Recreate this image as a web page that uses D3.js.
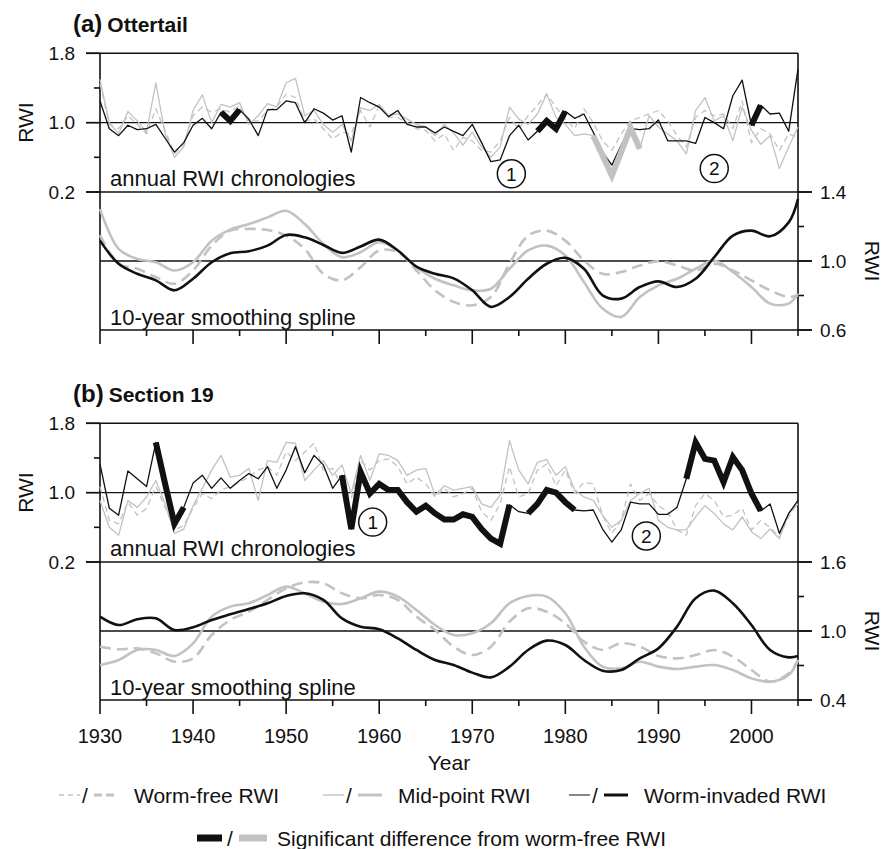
<!DOCTYPE html>
<html><head><meta charset="utf-8">
<script src="https://cdn.jsdelivr.net/npm/d3@7"></script>
<style>
body{margin:0;background:#fff;}
svg{display:block;}
text{font-family:"Liberation Sans",Arial,Helvetica,sans-serif;fill:#111;}
</style>
</head><body>
<svg id="c" width="894" height="849"></svg>
<script>
// ---------------- DATA ----------------
const years = d3.range(1930, 2006);                       // annual chronologies 1930-2005
const splineYears = d3.range(1930, 2005, 2).concat([2005]); // sampled smoothing spline
const xMajorTicks = [1930, 1940, 1950, 1960, 1970, 1980, 1990, 2000];
const xMinorTicks = [1935, 1945, 1955, 1965, 1975, 1985, 1995, 2005];

// (a) Ottertail – annual RWI
const aFree = [1.45,0.98,0.93,1.08,0.98,0.87,1.16,0.91,0.64,0.75,
  1.08,1.18,1.12,1.16,1.12,1.20,1.02,1.02,1.14,1.18,
  1.33,1.29,1.02,1.04,0.93,0.81,0.89,0.87,1.14,0.95,
  1.20,1.06,1.06,1.00,0.93,0.91,0.79,0.87,0.68,0.83,
  0.79,0.68,0.66,0.79,1.06,0.93,1.08,1.20,1.33,1.18,
  1.04,0.93,1.16,1.00,0.79,0.68,0.87,1.02,1.06,1.10,
  1.14,1.02,0.85,0.72,1.06,1.14,1.08,1.10,0.93,1.25,
  0.77,0.93,0.87,0.68,0.87,0.83];
const aMid = [1.50,1.00,0.87,1.13,1.02,0.89,1.46,0.87,0.60,0.72,
  1.14,1.32,1.00,1.21,1.18,1.23,0.98,1.08,1.22,1.18,
  1.46,1.51,1.08,1.14,0.98,0.89,0.98,0.79,1.17,1.14,
  1.21,1.08,1.10,1.04,0.98,0.95,0.85,0.98,0.88,0.74,
  0.89,0.72,0.60,0.72,1.18,1.04,0.98,1.10,1.33,1.06,
  0.98,0.85,0.87,0.85,0.62,0.39,0.66,0.94,0.70,1.08,
  0.95,0.87,0.79,0.64,1.14,1.29,1.02,1.08,0.79,1.18,
  0.91,0.75,0.85,0.47,0.72,0.95];
const aInv = [1.25,0.93,0.85,0.97,0.92,0.93,0.98,0.82,0.66,0.77,
  0.97,1.05,0.93,1.12,1.02,1.15,1.04,0.85,1.15,1.15,
  1.25,1.23,1.00,1.16,1.11,1.03,1.08,0.66,1.29,1.23,
  1.18,1.07,1.14,0.98,0.95,0.95,0.88,0.95,0.90,0.85,
  0.98,0.77,0.55,0.57,0.85,0.97,0.80,0.90,1.02,0.93,
  1.13,1.05,1.10,0.89,0.66,0.51,0.74,0.93,0.92,0.93,
  1.03,0.79,0.79,0.79,0.76,1.06,1.00,0.93,1.31,1.49,
  0.97,1.20,1.10,1.11,0.90,1.62];
// (a) Ottertail – 10-year smoothing spline
const aFreeS = [1.150,0.984,0.955,0.907,0.868,0.945,1.089,1.176,1.186,1.180,1.147,1.070,0.926,0.888,0.964,1.061,1.051,0.945,0.830,0.763,0.743,0.791,0.984,1.147,1.176,1.118,1.003,0.926,0.936,0.974,0.999,0.974,0.945,0.984,0.945,0.888,0.830,0.791,0.801];
const aMidS  = [1.301,1.070,1.012,0.993,0.945,0.993,1.118,1.182,1.214,1.253,1.291,1.214,1.099,1.022,1.051,1.109,1.061,0.964,0.897,0.859,0.830,0.839,0.955,1.061,1.089,1.032,0.878,0.724,0.676,0.791,0.859,0.897,0.955,1.003,0.936,0.849,0.753,0.753,0.811];
const aInvS  = [1.118,0.984,0.926,0.888,0.830,0.897,0.993,1.045,1.057,1.089,1.151,1.137,1.093,1.047,1.084,1.124,1.061,0.968,0.926,0.899,0.830,0.734,0.791,0.897,0.984,1.018,0.955,0.801,0.782,0.849,0.882,0.849,0.897,1.022,1.147,1.176,1.143,1.224,1.359];

// (b) Section 19 – annual RWI
const bFree = [1.07,0.68,0.64,0.89,0.74,0.82,1.07,0.83,0.57,0.62,
  0.82,0.99,0.93,1.03,1.07,1.12,1.18,1.26,1.30,1.20,
  1.47,1.37,1.47,1.57,1.26,1.28,1.07,0.93,1.37,1.26,
  1.37,1.39,1.30,1.10,1.18,1.10,0.95,1.05,0.95,0.99,
  1.05,0.78,0.68,0.87,1.30,0.95,0.99,1.26,1.33,1.08,
  1.26,0.99,1.12,1.10,0.74,0.53,0.68,1.10,0.91,0.99,
  0.85,0.78,0.57,0.51,0.85,0.99,0.91,0.72,0.74,0.82,
  0.57,0.68,0.60,0.49,0.72,0.89];
const bMid = [0.91,0.60,0.51,0.91,0.83,0.95,1.14,0.87,0.53,0.58,
  0.85,1.05,1.26,1.43,1.18,1.20,1.28,0.91,1.37,1.35,
  1.58,1.57,1.14,1.26,1.37,1.20,1.32,0.99,1.43,1.14,
  1.45,1.43,1.37,1.20,1.26,1.28,0.97,1.08,1.03,1.05,
  1.07,0.87,0.83,0.97,1.60,1.26,1.10,1.35,1.38,1.20,
  1.30,1.03,0.95,0.91,0.74,0.60,0.68,0.91,0.99,1.05,
  0.68,0.60,0.57,0.57,0.72,0.85,0.76,0.64,0.57,0.72,
  0.55,0.47,0.58,0.47,0.76,0.87];
const bInv = [1.33,0.82,0.74,1.25,1.16,1.07,1.58,1.10,0.64,0.83,
  1.11,1.20,1.05,1.17,1.05,1.14,1.22,1.16,1.30,1.05,
  1.26,1.53,1.23,1.43,1.32,1.05,1.20,0.58,1.24,0.99,
  1.10,1.03,1.03,0.89,0.78,0.85,0.76,0.69,0.69,0.75,
  0.72,0.58,0.47,0.41,0.86,0.78,0.76,0.87,1.03,1.00,
  0.89,0.80,0.79,0.80,0.58,0.43,0.57,0.89,0.87,0.87,
  0.75,0.75,0.83,1.16,1.58,1.39,1.37,1.12,1.41,1.26,
  0.99,0.79,0.87,0.53,0.76,0.91];
// (b) Section 19 – 10-year smoothing spline
const bFreeS = [0.864,0.841,0.849,0.806,0.733,0.762,0.965,1.096,1.168,1.270,1.371,1.423,1.415,1.328,1.284,1.313,1.270,1.125,1.009,0.864,0.791,0.864,1.081,1.197,1.168,1.067,0.907,0.835,0.893,0.864,0.783,0.762,0.791,0.835,0.777,0.661,0.559,0.632,0.748];
const bMidS  = [0.704,0.748,0.835,0.835,0.783,0.893,1.125,1.212,1.241,1.313,1.386,1.328,1.255,1.235,1.284,1.342,1.299,1.183,1.052,0.965,0.980,1.067,1.241,1.305,1.299,1.154,0.864,0.690,0.675,0.733,0.690,0.669,0.690,0.704,0.661,0.588,0.559,0.617,0.748];
const bInvS  = [1.125,1.052,1.102,1.110,1.009,1.032,1.096,1.145,1.191,1.241,1.305,1.328,1.270,1.110,1.038,1.015,0.936,0.835,0.748,0.704,0.638,0.597,0.690,0.835,0.916,0.878,0.748,0.655,0.661,0.762,0.849,1.038,1.284,1.351,1.241,1.052,0.835,0.771,0.782];

// significant-difference periods [series, first year, last year]
const aSig = [["mid",1983,1988],["inv",1943,1945],["inv",1977,1980],["inv",2000,2001]];
const bSig = [["inv",1936,1939],["inv",1956,1974],["inv",1976,1981],["inv",1993,2001]];

// circled period markers [label, year, RWI]
const aMarks = [["1",1974.2,0.41],["2",1996.0,0.47]];
const bMarks = [["1",1959.3,0.66],["2",1988.7,0.50]];

// axis tick values
const annualMajor = [0.2,1.0,1.8], annualMinor = [0.6,1.4];
const aSplineMajor = [0.6,1.0,1.4], aSplineMinor = [0.8,1.2];
const bSplineMajor = [0.4,1.0,1.6], bSplineMinor = [0.7,1.3];

// ---------------- DRAWING ----------------
const svg = d3.select("#c");
const X0 = 100, X1 = 798;
const x = d3.scaleLinear().domain([1930, 2005]).range([X0, X1]);
const GRAY = "#c2c2c2", BLACK = "#111";
const fmt = d3.format(".1f");

const panels = [
  {label:"(a)", name:"Ottertail", top:53.3, mid:192, bottom:330,
   ann:{free:aFree, mid:aMid, inv:aInv}, spl:{free:aFreeS, mid:aMidS, inv:aInvS},
   splDomain:[0.6,1.4], splMajor:aSplineMajor, splMinor:aSplineMinor,
   sig:aSig, marks:aMarks, xLabels:false},
  {label:"(b)", name:"Section 19", top:423.3, mid:562, bottom:700,
   ann:{free:bFree, mid:bMid, inv:bInv}, spl:{free:bFreeS, mid:bMidS, inv:bInvS},
   splDomain:[0.4,1.6], splMajor:bSplineMajor, splMinor:bSplineMinor,
   sig:bSig, marks:bMarks, xLabels:true}
];

panels.forEach(p => {
  const g = svg.append("g");
  const yA = d3.scaleLinear().domain([0.2, 1.8]).range([p.mid, p.top]);
  const yS = d3.scaleLinear().domain(p.splDomain).range([p.bottom, p.mid]);

  // title
  const t = g.append("text").attr("x", 73).attr("y", p.top - 21).attr("font-weight", "bold");
  t.append("tspan").attr("font-size", 24).text(p.label);
  t.append("tspan").attr("font-size", 21).attr("dx", 5).text(p.name);

  // frame lines
  const line = (x1,y1,x2,y2,w) => g.append("line").attr("x1",x1).attr("y1",y1).attr("x2",x2).attr("y2",y2)
      .attr("stroke", BLACK).attr("stroke-width", w || 1.6);
  line(86, yA(1.8), X1, yA(1.8));
  line(86, yA(1.0), X1, yA(1.0), 1.4);
  line(86, p.mid, X1 + 14, p.mid);
  line(X0, yS(1.0), X1 + 14, yS(1.0), 1.4);
  line(X0, p.bottom, X1 + 14, p.bottom);
  line(X0, p.top, X0, p.bottom);
  line(X1, p.top, X1, p.bottom);

  // left ticks (annual)
  annualMajor.forEach(v => line(86, yA(v), X0, yA(v)));
  annualMinor.forEach(v => line(94, yA(v), X0, yA(v)));
  annualMajor.forEach(v => g.append("text").attr("x", 75).attr("y", yA(v)).attr("dy", "0.36em")
      .attr("text-anchor", "end").attr("font-size", 19).text(fmt(v)));
  // right ticks (spline)
  p.splMajor.forEach(v => line(X1, yS(v), X1 + 14, yS(v)));
  p.splMinor.forEach(v => line(X1, yS(v), X1 + 6, yS(v)));
  p.splMajor.forEach(v => g.append("text").attr("x", 820).attr("y", yS(v)).attr("dy", "0.36em")
      .attr("font-size", 19).text(fmt(v)));

  // x ticks
  xMajorTicks.forEach(yr => line(x(yr), p.bottom, x(yr), p.bottom + 14));
  xMinorTicks.forEach(yr => line(x(yr), p.bottom, x(yr), p.bottom + 6));
  if (p.xLabels) {
    xMajorTicks.forEach(yr => g.append("text").attr("x", x(yr)).attr("y", p.bottom + 36).attr("dy", "0.36em")
        .attr("text-anchor", "middle").attr("font-size", 20).text(yr));
    g.append("text").attr("x", (X0 + X1) / 2).attr("y", p.bottom + 62).attr("dy", "0.36em")
      .attr("text-anchor", "middle").attr("font-size", 21).text("Year");
  }

  // axis titles
  g.append("text").attr("transform", `translate(25,${yA(1.0)}) rotate(-90)`).attr("text-anchor", "middle")
    .attr("dy", "0.36em").attr("font-size", 21).text("RWI");
  g.append("text").attr("transform", `translate(873,${yS(1.0)}) rotate(90)`).attr("text-anchor", "middle")
    .attr("dy", "0.36em").attr("font-size", 21).text("RWI");

  // panel labels
  g.append("text").attr("x", 110).attr("y", p.mid - 6).attr("font-size", 22).text("annual RWI chronologies");
  g.append("text").attr("x", 110).attr("y", p.bottom - 5).attr("font-size", 22).text("10-year smoothing spline");

  // annual lines
  const la = d3.line().x((d,i) => x(years[i])).y(d => yA(d));
  const styles = {free:{c:GRAY, dash:"6,4"}, mid:{c:GRAY, dash:null}, inv:{c:BLACK, dash:null}};
  ["free","mid","inv"].forEach(k => {
    g.append("path").attr("d", la(p.ann[k])).attr("fill", "none").attr("stroke", styles[k].c)
      .attr("stroke-width", 1.3).attr("stroke-dasharray", styles[k].dash).attr("stroke-linejoin", "round");
  });
  // significant segments
  p.sig.forEach(([k, y0, y1]) => {
    const i0 = years.indexOf(y0), i1 = years.indexOf(y1);
    const seg = p.ann[k].slice(i0, i1 + 1);
    const ls = d3.line().x((d,i) => x(years[i0 + i])).y(d => yA(d));
    g.append("path").attr("d", ls(seg)).attr("fill", "none")
      .attr("stroke", k === "inv" ? BLACK : GRAY).attr("stroke-width", 6).attr("stroke-linejoin", "miter");
  });

  // spline lines
  const ls2 = d3.line().curve(d3.curveCatmullRom.alpha(0.5)).x((d,i) => x(splineYears[i])).y(d => yS(d));
  const sstyles = {free:{c:GRAY, dash:"11,6"}, mid:{c:GRAY, dash:null}, inv:{c:BLACK, dash:null}};
  ["free","mid","inv"].forEach(k => {
    g.append("path").attr("d", ls2(p.spl[k])).attr("fill", "none").attr("stroke", sstyles[k].c)
      .attr("stroke-width", 2.6).attr("stroke-dasharray", sstyles[k].dash);
  });

  // circled markers
  p.marks.forEach(([lab, yr, v]) => {
    g.append("circle").attr("cx", x(yr)).attr("cy", yA(v)).attr("r", 14)
      .attr("fill", "none").attr("stroke", BLACK).attr("stroke-width", 1.5);
    g.append("text").attr("x", x(yr)).attr("y", yA(v)).attr("dy", "0.36em").attr("text-anchor", "middle")
      .attr("font-size", 19).text(lab);
  });
});

// ---------------- LEGEND ----------------
const lg = svg.append("g");
const legendItems = [
  {x:59, color:GRAY, dash:true, label:"Worm-free RWI"},
  {x:323, color:GRAY, dash:false, label:"Mid-point RWI"},
  {x:569, color:BLACK, dash:false, label:"Worm-invaded RWI"}
];
const LY = 795;
legendItems.forEach(it => {
  lg.append("line").attr("x1", it.x).attr("x2", it.x + 21).attr("y1", LY).attr("y2", LY)
    .attr("stroke", it.color === BLACK ? "#444" : it.color).attr("stroke-width", 1.3)
    .attr("stroke-dasharray", it.dash ? "5,4" : null);
  lg.append("text").attr("x", it.x + 26).attr("y", LY).attr("dy", "0.36em").attr("text-anchor", "middle")
    .attr("font-size", 21).text("/");
  lg.append("line").attr("x1", it.x + 35).attr("x2", it.x + 59).attr("y1", LY).attr("y2", LY)
    .attr("stroke", it.color).attr("stroke-width", 3).attr("stroke-dasharray", it.dash ? "8,4" : null);
  lg.append("text").attr("x", it.x + 75).attr("y", LY).attr("dy", "0.36em").attr("font-size", 21).text(it.label);
});
const LY2 = 838;
lg.append("rect").attr("x", 197).attr("y", LY2 - 3.5).attr("width", 25).attr("height", 7).attr("fill", BLACK);
lg.append("text").attr("x", 230).attr("y", LY2).attr("dy", "0.36em").attr("text-anchor", "middle").attr("font-size", 21).text("/");
lg.append("rect").attr("x", 239).attr("y", LY2 - 3.5).attr("width", 28).attr("height", 7).attr("fill", GRAY);
lg.append("text").attr("x", 277).attr("y", LY2).attr("dy", "0.36em").attr("font-size", 21)
  .text("Significant difference from worm-free RWI");
</script>
</body></html>
